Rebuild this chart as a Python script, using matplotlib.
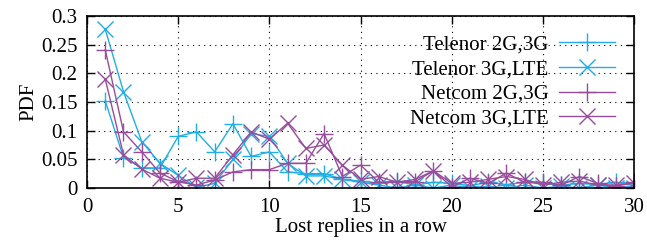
import numpy as np
import matplotlib
matplotlib.use("Agg")
import matplotlib.pyplot as plt

plt.rcParams["font.family"] = ["Liberation Serif", "DejaVu Serif"]

lost = list(range(1, 31))
telenor_2g3g = [0.152, 0.053, 0.035, 0.035, 0.090, 0.098, 0.063, 0.112, 0.055, 0.063,
                0.028, 0.025, 0.025, 0.015, 0.012, 0.008, 0.012, 0.005, 0.010, 0.008,
                0.004, 0.010, 0.006, 0.010, 0.008, 0.005, 0.008, 0.006, 0.010, 0.004]
telenor_3glte = [0.277, 0.168, 0.081, 0.043, 0.022, 0.001, 0.008, 0.050, 0.095, 0.090,
                 0.043, 0.021, 0.021, 0.015, 0.010, 0.005, 0.000, 0.005, 0.000, 0.005,
                 0.000, 0.003, 0.000, 0.005, 0.000, 0.003, 0.000, 0.005, 0.000, 0.000]
netcom_2g3g = [0.241, 0.098, 0.063, 0.026, 0.011, 0.005, 0.014, 0.028, 0.032, 0.032,
               0.043, 0.043, 0.095, 0.020, 0.040, 0.010, 0.011, 0.011, 0.030, 0.002,
               0.017, 0.008, 0.026, 0.010, 0.010, 0.005, 0.020, 0.008, 0.003, 0.010]
netcom_3glte = [0.190, 0.058, 0.033, 0.017, 0.010, 0.017, 0.017, 0.058, 0.098, 0.085,
                0.113, 0.069, 0.075, 0.040, 0.015, 0.020, 0.010, 0.015, 0.030, 0.008,
                0.010, 0.015, 0.020, 0.015, 0.005, 0.010, 0.012, 0.005, 0.005, 0.008]

cyan = "#22aee4"
purple = "#984c9c"
fs = 15

fig = plt.figure(figsize=(6.47, 2.47), dpi=100)
ax = fig.add_axes([0.1345, 0.239, 0.8455, 0.696])

ms = 13
ax.plot(lost, telenor_2g3g, color=cyan, lw=1, marker="+", ms=ms, mew=1, label="Telenor 2G,3G")
ax.plot(lost, telenor_3glte, color=cyan, lw=1, marker="x", ms=ms * 0.85, mew=1, label="Telenor 3G,LTE")
ax.plot(lost, netcom_2g3g, color=purple, lw=1, marker="+", ms=ms, mew=1, label="Netcom 2G,3G")
ax.plot(lost, netcom_3glte, color=purple, lw=1, marker="x", ms=ms * 0.85, mew=1, label="Netcom 3G,LTE")

ax.set_xlim(0, 30)
ax.set_ylim(0, 0.3)
ax.set_xticks([0, 5, 10, 15, 20, 25, 30])
ax.set_yticks([0, 0.05, 0.1, 0.15, 0.2, 0.25, 0.3])
ax.set_yticklabels(["0", "0.05", "0.1", "0.15", "0.2", "0.25", "0.3"])
ax.tick_params(direction="in", top=True, right=True, length=6, width=1, labelsize=fs, pad=7)
ax.grid(True, color="black", linestyle=(0, (1, 4)), linewidth=0.8)
for s in ax.spines.values():
    s.set_linewidth(1.2)

ax.set_xlabel("Lost replies in a row", fontsize=fs, labelpad=1)
ax.set_ylabel("PDF", fontsize=fs, labelpad=2)

leg = ax.legend(loc="upper right", frameon=False, markerfirst=False, fontsize=fs,
                handlelength=2.7, labelspacing=0.25, borderaxespad=0.5, handletextpad=0.5)

fig.savefig("out.png", dpi=100)
